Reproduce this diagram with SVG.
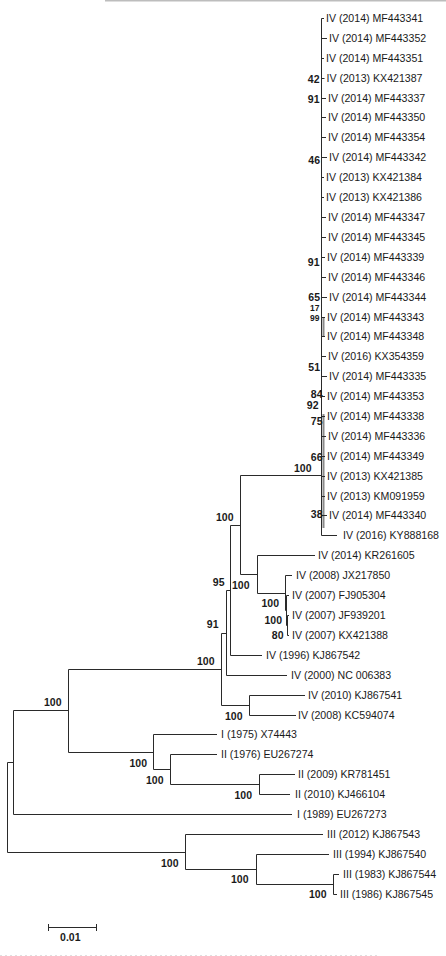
<svg xmlns="http://www.w3.org/2000/svg" width="446" height="956" viewBox="0 0 446 956">
<style>
.e{fill:none;stroke:#2a2a2a;stroke-width:1}
.g{fill:none;stroke:#8a8a8a;stroke-width:2}
.t{font-family:"Liberation Sans",Arial,sans-serif;font-size:10.6px;fill:#1a1a1a}
.b{font-family:"Liberation Sans Narrow","Liberation Sans",Arial,sans-serif;font-size:10.5px;font-weight:bold;fill:#1a1a1a;text-anchor:end}
.s{font-size:8.5px}
</style>
<rect x="0" y="0" width="446" height="956" fill="#fff"/>
<line x1="105" y1="0.8" x2="446" y2="0.8" stroke="#bdbdbd" stroke-width="1.6"/>
<line x1="0" y1="955.5" x2="380" y2="955.5" stroke="#e0e0e0" stroke-width="1" stroke-dasharray="2 3"/>
<g id="connectors">
<path class="e" d="M321.5 18.5V535.5H337"/>
<path class="g" d="M323.5 318V337M323.5 414V528"/>
<path class="e" d="M321.5 18.5H324M321.5 38.5H327M321.5 58.5H324M321.5 78.5H324.5M321.5 98.5H326M321.5 117.5H326M321.5 137.5H326M321.5 157.5H327M321.5 177.5H324M321.5 197.5H324M321.5 217.5H326M321.5 237.5H326M321.5 257.5H325M321.5 277.5H326M321.5 297.5H327M321.5 317.5H325M321.5 336.5H325M321.5 356.5H326M321.5 376.5H327M321.5 396.5H325M321.5 416.5H325M321.5 436.5H326M321.5 456.5H325M321.5 476.5H325M321.5 496.5H325M321.5 515.5H327"/>
<path class="e" d="M240.5 475.5H321.5M240.5 475.5V574.5M230.5 525.5H240.5M240.5 574.5H257.5M257.5 555.5V593.5M257.5 555.5H315M257.5 593.5H285.5M285.5 575.5V610.5M285.5 575.5H292M285.5 610.5H286.5M286.5 595.5V625.5M286.5 595.5H289M286.5 625.5H287.5M287.5 615.5V635.5M287.5 615.5H289M287.5 635.5H289"/>
<path class="e" d="M230.5 525.5V655.5H262M226.5 590.5H230.5M226.5 590.5V675.5H287M221.5 633.5H226.5M221.5 633.5V705.5M221.5 705.5H249.5M249.5 695.5V715.5M249.5 695.5H305M249.5 715.5H296"/>
<path class="e" d="M68.5 669.5H221.5M68.5 669.5V752.5M68.5 752.5H153.5M153.5 734.5V769.5M153.5 734.5H217M153.5 769.5H170.5M170.5 754.5V784.5M170.5 754.5H217M170.5 784.5H259.5M259.5 774.5V794.5M259.5 774.5H295M259.5 794.5H290"/>
<path class="e" d="M13.5 710.5H68.5M13.5 710.5V814.5H292M7.5 762.5H13.5M7.5 762.5V852.5H185.5M185.5 834.5V869.5M185.5 834.5H323M185.5 869.5H256.5M256.5 854.5V884.5M256.5 854.5H329M256.5 884.5H333.5M333.5 874.5V894.5M333.5 874.5H339M333.5 894.5H337"/>
<path class="e" d="M48 927.5H97M48.5 924V931M96.5 924V931"/>
</g>
<g id="tips" class="t">
<g id="n1"><text x="326" y="22">IV (2014) MF443341</text></g>
<g id="n2"><text x="329" y="42">IV (2014) MF443352</text></g>
<g id="n3"><text x="326" y="62">IV (2014) MF443351</text></g>
<g id="n4"><text x="326.5" y="82">IV (2013) KX421387</text></g>
<g id="n5"><text x="328" y="102">IV (2014) MF443337</text></g>
<g id="n6"><text x="328" y="121">IV (2014) MF443350</text></g>
<g id="n7"><text x="328" y="141">IV (2014) MF443354</text></g>
<g id="n8"><text x="329" y="161">IV (2014) MF443342</text></g>
<g id="n9"><text x="326" y="181">IV (2013) KX421384</text></g>
<g id="n10"><text x="326" y="201">IV (2013) KX421386</text></g>
<g id="n11"><text x="328" y="221">IV (2014) MF443347</text></g>
<g id="n12"><text x="328" y="241">IV (2014) MF443345</text></g>
<g id="n13"><text x="327" y="261">IV (2014) MF443339</text></g>
<g id="n14"><text x="328" y="281">IV (2014) MF443346</text></g>
<g id="n15"><text x="329" y="301">IV (2014) MF443344</text></g>
<g id="n16"><text x="327" y="321">IV (2014) MF443343</text></g>
<g id="n17"><text x="327" y="340">IV (2014) MF443348</text></g>
<g id="n18"><text x="328" y="360">IV (2016) KX354359</text></g>
<g id="n19"><text x="329" y="380">IV (2014) MF443335</text></g>
<g id="n20"><text x="327" y="400">IV (2014) MF443353</text></g>
<g id="n21"><text x="327" y="420">IV (2014) MF443338</text></g>
<g id="n22"><text x="328" y="440">IV (2014) MF443336</text></g>
<g id="n23"><text x="327" y="460">IV (2014) MF443349</text></g>
<g id="n24"><text x="327" y="480">IV (2013) KX421385</text></g>
<g id="n25"><text x="327" y="500">IV (2013) KM091959</text></g>
<g id="n26"><text x="329" y="519">IV (2014) MF443340</text></g>
<g id="n27"><text x="343" y="539">IV (2016) KY888168</text></g>
<g id="n28"><text x="318" y="559">IV (2014) KR261605</text></g>
<g id="n29"><text x="296" y="579">IV (2008) JX217850</text></g>
<g id="n30"><text x="292" y="599">IV (2007) FJ905304</text></g>
<g id="n31"><text x="292" y="619">IV (2007) JF939201</text></g>
<g id="n32"><text x="292" y="639">IV (2007) KX421388</text></g>
<g id="n33"><text x="266" y="659">IV (1996) KJ867542</text></g>
<g id="n34"><text x="291" y="679">IV (2000) NC 006383</text></g>
<g id="n35"><text x="308" y="699">IV (2010) KJ867541</text></g>
<g id="n36"><text x="298" y="719">IV (2008) KC594074</text></g>
<g id="n37"><text x="221" y="738">I (1975) X74443</text></g>
<g id="n38"><text x="221" y="758">II (1976) EU267274</text></g>
<g id="n39"><text x="298" y="778">II (2009) KR781451</text></g>
<g id="n40"><text x="295" y="798">II (2010) KJ466104</text></g>
<g id="n41"><text x="297" y="818">I (1989) EU267273</text></g>
<g id="n42"><text x="327" y="838">III (2012) KJ867543</text></g>
<g id="n43"><text x="333" y="858">III (1994) KJ867540</text></g>
<g id="n44"><text x="343" y="878">III (1983) KJ867544</text></g>
<g id="n45"><text x="340" y="898">III (1986) KJ867545</text></g>
</g>
<g id="bootstrap" class="b">
<g id="s1"><text x="319.5" y="83">42</text></g>
<g id="s2"><text x="319.5" y="103">91</text></g>
<g id="s3"><text x="320" y="164">46</text></g>
<g id="s4"><text x="319.5" y="266">91</text></g>
<g id="s5"><text x="320" y="301">65</text></g>
<g id="s6"><text class="s" x="319.5" y="310.5">17</text></g>
<g id="s7"><text class="s" x="319.5" y="320.5">99</text></g>
<g id="s8"><text x="320" y="371">51</text></g>
<g id="s9"><text x="322.5" y="398">84</text></g>
<g id="s10"><text x="318.5" y="409">92</text></g>
<g id="s11"><text x="322.5" y="425">75</text></g>
<g id="s12"><text x="322.5" y="461">66</text></g>
<g id="s13"><text x="311.5" y="472">100</text></g>
<g id="s14"><text x="322.5" y="518">38</text></g>
<g id="s15"><text x="233.5" y="521">100</text></g>
<g id="s16"><text x="249.5" y="589">100</text></g>
<g id="s17"><text x="279" y="607">100</text></g>
<g id="s18"><text x="282" y="624">100</text></g>
<g id="s19"><text x="283.5" y="639">80</text></g>
<g id="s20"><text x="224.5" y="586">95</text></g>
<g id="s21"><text x="218.5" y="628">91</text></g>
<g id="s22"><text x="214.5" y="665">100</text></g>
<g id="s23"><text x="242.5" y="720">100</text></g>
<g id="s24"><text x="61.5" y="706">100</text></g>
<g id="s25"><text x="147" y="767">100</text></g>
<g id="s26"><text x="163.5" y="784">100</text></g>
<g id="s27"><text x="252" y="799">100</text></g>
<g id="s28"><text x="178.5" y="867">100</text></g>
<g id="s29"><text x="248.5" y="883">100</text></g>
<g id="s30"><text x="326.5" y="898">100</text></g>
<g id="scale"><text x="80.5" y="941">0.01</text></g>
</g>
</svg>
